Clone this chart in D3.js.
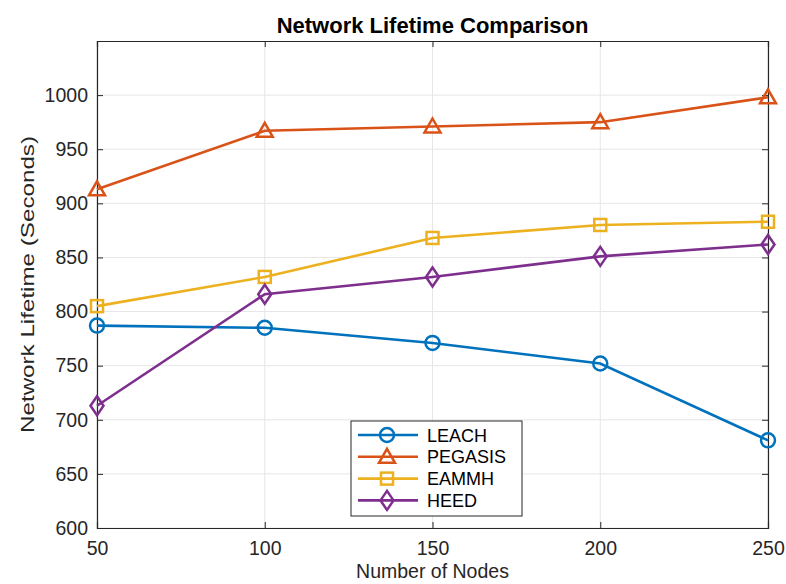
<script src="https://d3js.org/d3.v7.min.js"></script>
<body style="margin:0;background:#fff">
<script>
  // values
  const nodes = [50, 100, 150, 200, 250];
  const leach = [787, 785, 771, 752, 681];
  const pegasis = [913, 967, 971, 975, 998];
  const eammh = [805, 832, 868, 880, 883];
  const heed = [713, 816, 832, 851, 862];
  const yTicks = [600, 650, 700, 750, 800, 850, 900, 950, 1000];

  const series = [
    {name: 'LEACH', values: leach, color: '#0072BD', marker: 'circle'},
    {name: 'PEGASIS', values: pegasis, color: '#D95319', marker: 'triangle'},
    {name: 'EAMMH', values: eammh, color: '#EDB120', marker: 'square'},
    {name: 'HEED', values: heed, color: '#7E2F8E', marker: 'diamond'}
  ];

  const width = 786, height = 584;
  const margin = {top: 41, right: 18, bottom: 56, left: 97};
  const font = 'Liberation Sans, Arial, sans-serif';

  const svg = d3.select('body').append('svg')
    .attr('width', width).attr('height', height)
    .style('font-family', font);

  const x = d3.scaleLinear().domain([50, 250]).range([margin.left, width - margin.right]);
  const y = d3.scaleLinear().domain([600, 1050]).range([height - margin.bottom, margin.top]);

  // grid
  svg.append('g').selectAll('line').data(nodes).enter().append('line')
    .attr('x1', d => x(d)).attr('x2', d => x(d))
    .attr('y1', y(600)).attr('y2', y(1050))
    .attr('stroke', '#e6e6e6').attr('stroke-width', 1);
  svg.append('g').selectAll('line').data(yTicks).enter().append('line')
    .attr('y1', d => y(d)).attr('y2', d => y(d))
    .attr('x1', x(50)).attr('x2', x(250))
    .attr('stroke', '#e6e6e6').attr('stroke-width', 1);

  // axes
  const xAxis = svg.append('g')
    .attr('transform', 'translate(0,' + y(600) + ')')
    .call(d3.axisBottom(x).tickValues(nodes).tickSize(-6).tickPadding(13).tickFormat(d3.format('d')));
  const yAxis = svg.append('g')
    .attr('transform', 'translate(' + x(50) + ',0)')
    .call(d3.axisLeft(y).tickValues(yTicks).tickSize(-6).tickPadding(9).tickFormat(d3.format('d')));
  // top and right edges of the box
  const xTop = svg.append('g')
    .attr('transform', 'translate(0,' + y(1050) + ')')
    .call(d3.axisTop(x).tickValues(nodes).tickSize(-6).tickFormat(''));
  const yRight = svg.append('g')
    .attr('transform', 'translate(' + x(250) + ',0)')
    .call(d3.axisRight(y).tickValues(yTicks).tickSize(-6).tickFormat(''));

  [xAxis, yAxis, xTop, yRight].forEach(function(a) {
    a.attr('font-size', null).attr('font-family', null);
    a.selectAll('path').attr('stroke', '#262626').attr('stroke-width', 1.2);
    a.selectAll('line').attr('stroke', '#262626');
    a.selectAll('text').attr('fill', '#262626').style('font-size', '19.5px').style('font-family', font);
  });

  const line = d3.line().x((d, i) => x(nodes[i])).y(d => y(d));

  function drawMarker(g, type, color) {
    if (type === 'circle') {
      g.append('circle').attr('r', 7);
    } else if (type === 'triangle') {
      g.append('path').attr('d', 'M0,-8L8,6L-8,6Z');
    } else if (type === 'square') {
      g.append('rect').attr('x', -6).attr('y', -6).attr('width', 12).attr('height', 12);
    } else {
      g.append('path').attr('d', 'M0,-9.5L6.5,0L0,9.5L-6.5,0Z');
    }
    g.selectAll('*').attr('fill', 'none').attr('stroke', color).attr('stroke-width', 2.5);
  }

  series.forEach(function(s) {
    svg.append('path')
      .attr('d', line(s.values))
      .attr('fill', 'none')
      .attr('stroke', s.color)
      .attr('stroke-width', 2.6);
    svg.append('g').selectAll('g').data(s.values).enter().append('g')
      .attr('transform', (d, i) => 'translate(' + x(nodes[i]) + ',' + y(d) + ')')
      .each(function() { drawMarker(d3.select(this), s.marker, s.color); });
  });

  // title and axis labels
  svg.append('text')
    .attr('x', (x(50) + x(250)) / 2).attr('y', 33)
    .attr('text-anchor', 'middle')
    .style('font-size', '22px').style('font-weight', 'bold')
    .attr('fill', '#000')
    .text('Network Lifetime Comparison');
  svg.append('text')
    .attr('x', (x(50) + x(250)) / 2).attr('y', 578)
    .attr('text-anchor', 'middle')
    .style('font-size', '19.5px').attr('fill', '#262626')
    .text('Number of Nodes');
  svg.append('text')
    .attr('transform', 'translate(34,' + (y(600) + y(1050)) / 2 + ') rotate(-90)')
    .attr('text-anchor', 'middle')
    .style('font-size', '19px').attr('fill', '#262626')
    .attr('textLength', 297).attr('lengthAdjust', 'spacingAndGlyphs')
    .text('Network Lifetime (Seconds)');

  // legend
  const legend = svg.append('g').attr('transform', 'translate(351,421)');
  legend.append('rect')
    .attr('width', 171).attr('height', 95)
    .attr('fill', '#fff').attr('stroke', '#262626').attr('stroke-width', 1);
  series.forEach(function(s, i) {
    const row = legend.append('g').attr('transform', 'translate(0,' + (14 + i * 21.8) + ')');
    row.append('line').attr('x1', 7).attr('x2', 67)
      .attr('stroke', s.color).attr('stroke-width', 2.6);
    const m = row.append('g').attr('transform', 'translate(36,0)');
    drawMarker(m, s.marker, s.color);
    row.append('text').attr('x', 76).attr('y', 6.5)
      .style('font-size', '18px').attr('fill', '#000')
      .text(s.name);
  });
</script>
</body>
